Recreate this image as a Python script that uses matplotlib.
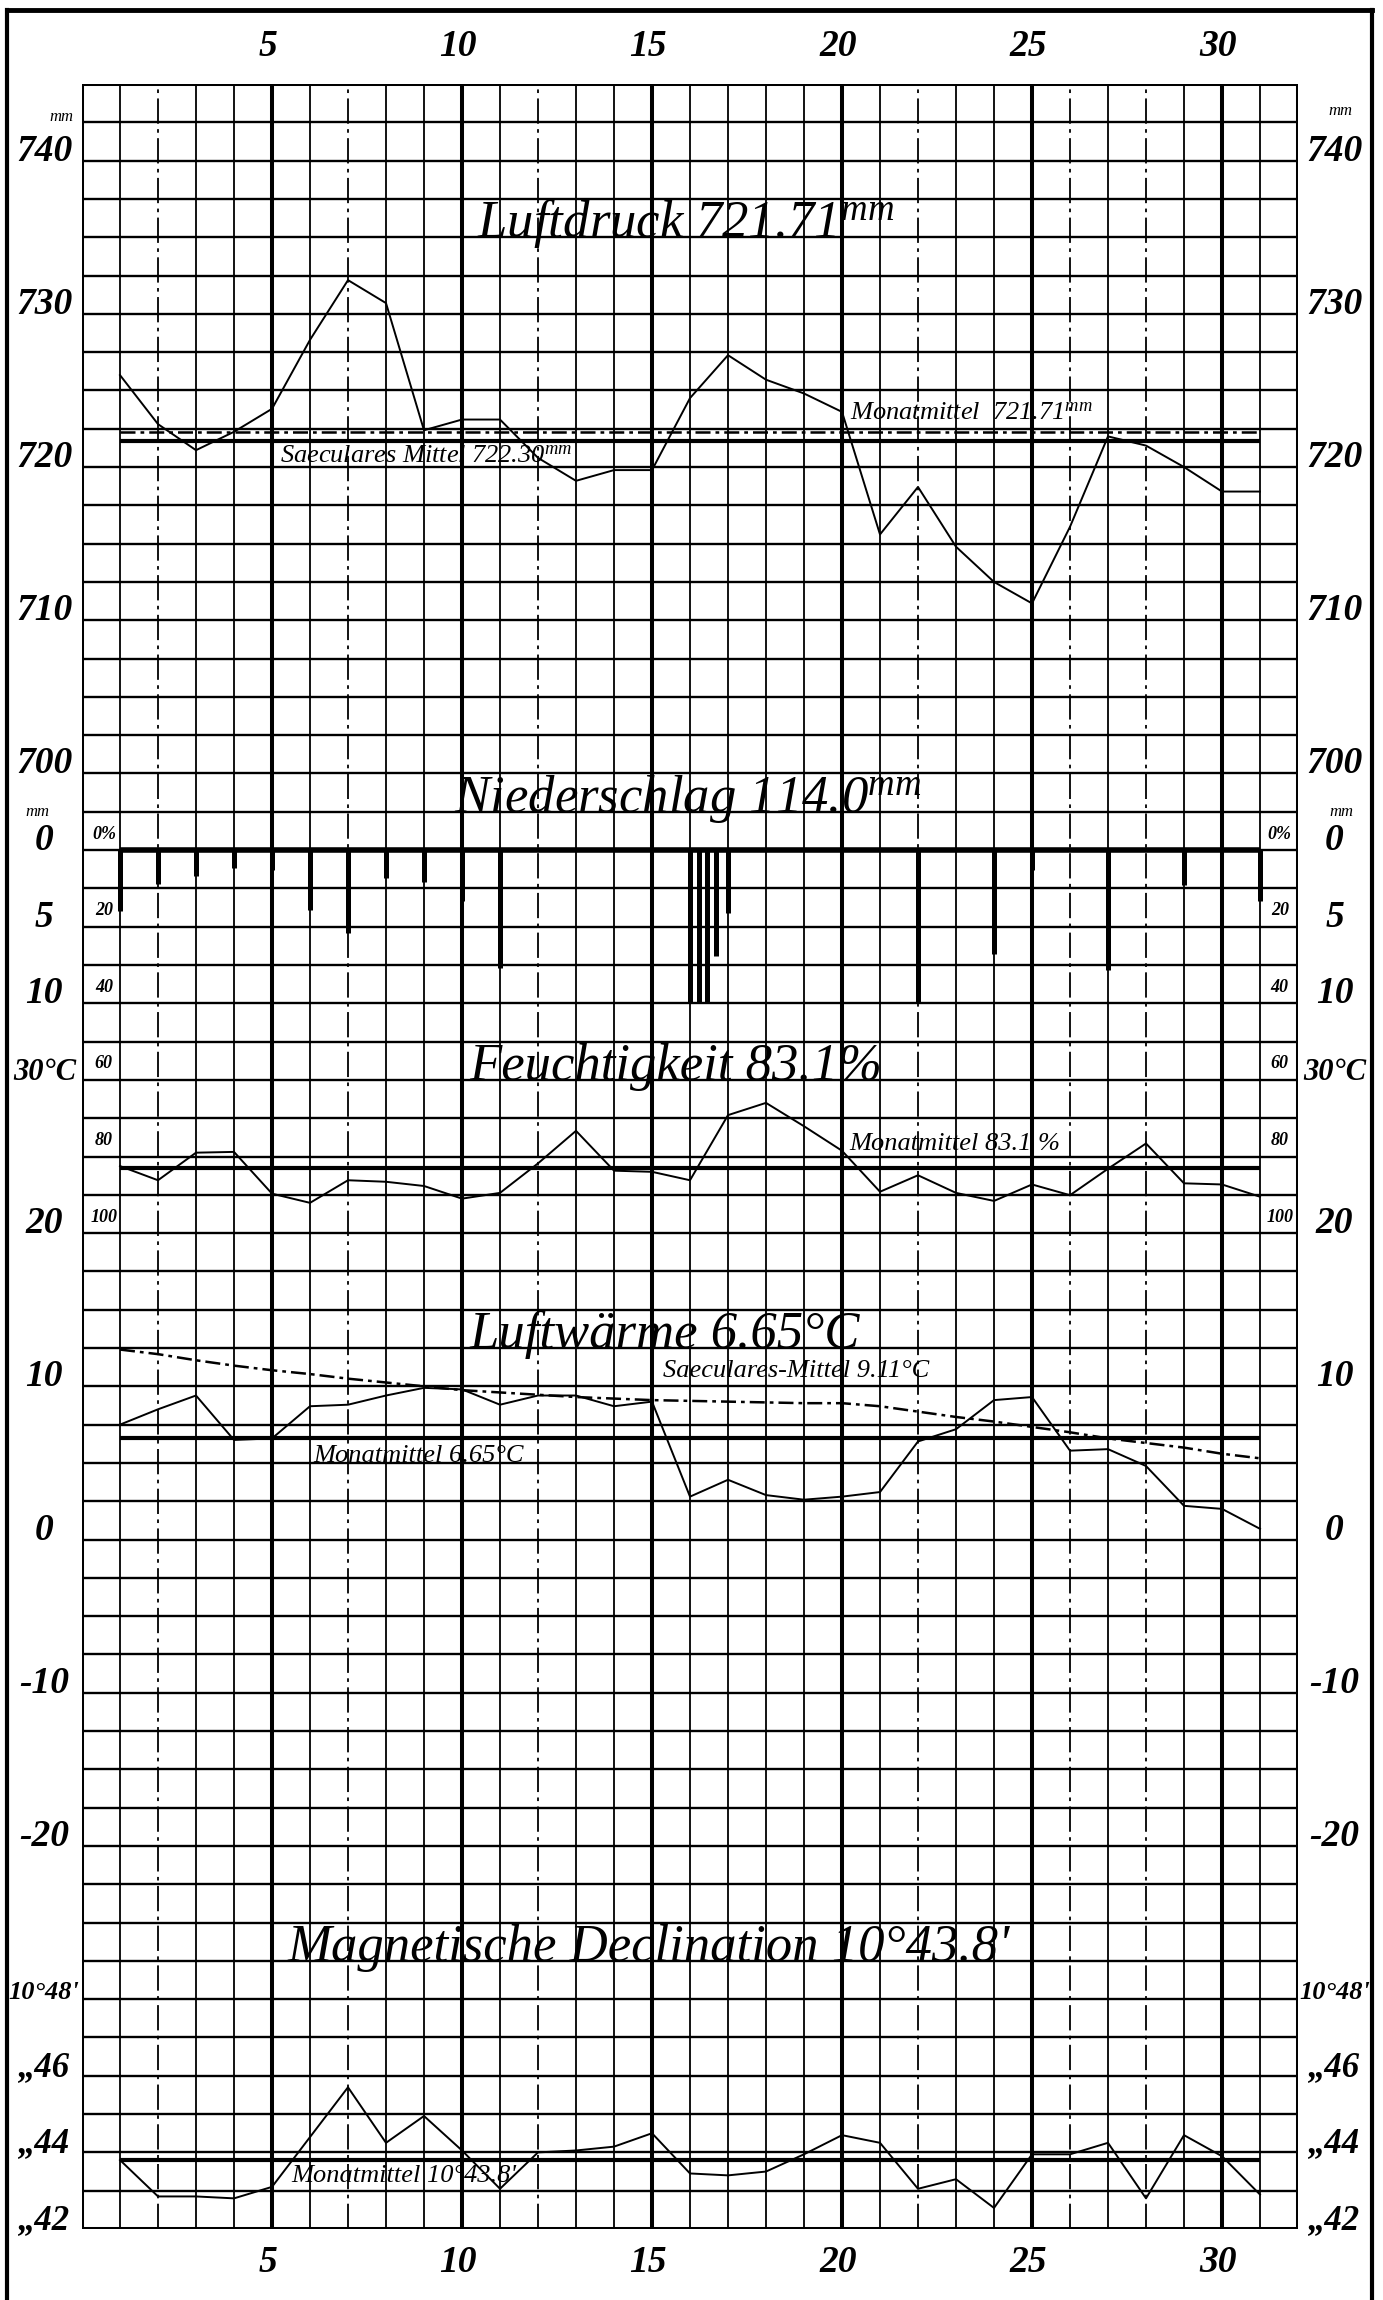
import matplotlib.pyplot as plt
import numpy as np

plt.rcParams['font.family'] = ['Liberation Serif', 'DejaVu Serif']
plt.rcParams['font.style'] = 'italic'
plt.rcParams['mathtext.fontset'] = 'custom'
plt.rcParams['mathtext.rm'] = 'Liberation Serif:italic'
plt.rcParams['mathtext.it'] = 'Liberation Serif:italic'

# --- data (one value per day of the month) ---
days = np.arange(1, 32)

pressure = [726.0, 722.8, 721.1, 722.3, 723.8, 728.3, 732.2, 730.7, 722.4, 723.1,
            723.1, 720.6, 719.1, 719.8, 719.8, 724.5, 727.3, 725.7, 724.8, 723.6,
            715.6, 718.7, 714.8, 712.5, 711.1, 716.1, 722.0, 721.4, 720.0, 718.4, 718.4]
pressure_mean = 721.71
pressure_secular = 722.30

precipitation = [4.0, 2.2, 1.7, 1.2, 1.3, 3.9, 5.4, 1.8, 2.1, 3.3,
                 7.7, 0, 0, 0, 0, 36.9, 4.1, 0, 0, 0,
                 0, 10.0, 0, 6.8, 1.3, 0, 7.8, 0, 2.3, 0, 3.3]
precipitation_total = 114.0

humidity = [82.5, 86.2, 79.0, 78.8, 89.7, 92.1, 86.2, 86.6, 87.7, 91.0,
            89.5, 81.8, 73.3, 83.7, 84.0, 86.2, 69.2, 66.0, 72.1, 78.5,
            89.2, 84.9, 89.5, 91.6, 87.3, 90.1, 83.2, 76.6, 87.0, 87.3, 90.5]
humidity_mean = 83.1

temperature = [7.5, 8.5, 9.4, 6.5, 6.6, 8.7, 8.8, 9.4, 9.9, 9.8,
               8.8, 9.4, 9.4, 8.7, 9.0, 2.8, 3.9, 2.9, 2.6, 2.8,
               3.1, 6.4, 7.2, 9.1, 9.3, 5.8, 5.9, 4.8, 2.2, 2.0, 0.7]
temperature_mean = 6.65
temperature_secular = [12.4, 12.1, 11.7, 11.35, 11.05, 10.8, 10.5, 10.25, 10.0, 9.75,
                       9.6, 9.45, 9.3, 9.2, 9.1, 9.05, 9.0, 8.95, 8.9, 8.9,
                       8.7, 8.35, 8.0, 7.7, 7.35, 7.0, 6.6, 6.3, 6.0, 5.6, 5.3]

declination = [43.8, 42.85, 42.85, 42.8, 43.1, 44.4, 45.7, 44.25, 44.95, 44.05,
               43.05, 44.0, 44.05, 44.15, 44.5, 43.45, 43.4, 43.5, 43.95, 44.45,
               44.25, 43.05, 43.3, 42.55, 43.95, 43.95, 44.25, 42.8, 44.45, 43.9, 42.9]
declination_mean = 43.8

day_ticks = [5, 10, 15, 20, 25, 30]
pressure_ticks = [740, 730, 720, 710, 700]
precip_ticks = [0, 5, 10]
humidity_ticks = [0, 20, 40, 60, 80, 100]
temp_ticks = [30, 20, 10, 0, -10, -20]
decl_ticks = [48, 46, 44, 42]

# --- figure and grid ---
W, H = 1383, 2300
fig = plt.figure(figsize=(W / 100, H / 100), dpi=100, facecolor='white')

gx0, gx1, gy0, gy1 = 82, 1298, 84, 2229
rect = [gx0 / W, 1 - gy1 / H, (gx1 - gx0) / W, (gy1 - gy0) / H]

ax = fig.add_axes(rect)
ax.set_xlim(0, 32)
ax.set_ylim(56, 0)
ax.axis('off')

for d in range(33):
    thick = d % 5 == 0 or d == 32
    ls = (0, (14, 3, 2, 3)) if d in (2, 7, 12, 22, 26, 28) else '-'
    ax.axvline(d, color='black', lw=2.9 if thick else 1.3, ls=ls, zorder=1)
for r in range(57):
    ax.axhline(r, color='black', lw=2.9 if r in (0, 56) else 1.7, zorder=1)


def layer(lo, hi):
    a = fig.add_axes(rect, sharex=ax)
    a.set_ylim(lo, hi)
    a.axis('off')
    a.patch.set_alpha(0)
    return a


p_ax = layer(605, 745)
r_ax = layer(90, -50)
h_ax = layer(360, -200)
t_ax = layer(-45, 95)
m_ax = layer(42, 98)

ink = dict(color='black', zorder=3)

# Luftdruck
p_ax.plot(days, pressure, lw=1.4, **ink)
p_ax.hlines(pressure_mean, 1, 31, lw=3.0, **ink)
p_ax.hlines(pressure_secular, 1, 31, lw=1.8, ls=(0, (6, 2, 1.5, 2)), **ink)

# Niederschlag: bars hang from the zero line and fold back at 10 mm
r_ax.hlines(0, 1, 31, lw=4.0, **ink)
for d, v in zip(days, precipitation):
    j = 0
    while v > 0:
        seg = min(v, 10.0)
        r_ax.vlines(d + j * 0.23, 0, seg, lw=3.6, **ink)
        v -= seg
        j += 1

# Feuchtigkeit
h_ax.plot(days, humidity, lw=1.4, **ink)
h_ax.hlines(humidity_mean, 1, 31, lw=3.0, **ink)

# Luftwärme
t_ax.plot(days, temperature, lw=1.4, **ink)
t_ax.hlines(temperature_mean, 1, 31, lw=3.0, **ink)
t_ax.plot(days, temperature_secular, lw=1.8, ls=(0, (6, 2, 1.5, 2)), **ink)

# Magnetische Declination
m_ax.plot(days, declination, lw=1.4, **ink)
m_ax.hlines(declination_mean, 1, 31, lw=3.0, **ink)

# --- titles and notes ---
big = dict(fontsize=38, color='black', va='baseline', ha='left', zorder=4)
small = dict(fontsize=19, color='black', va='baseline', ha='left', zorder=4)

p_ax.text(10.4, 735, r'Luftdruck 721.71$^{\rm mm}$', **big)
r_ax.text(9.8, -2.5, r'Niederschlag 114.0$^{\rm mm}$', **big)
h_ax.text(10.2, 60, 'Feuchtigkeit 83.1%', **big)
t_ax.text(10.2, 12.5, 'Luftwärme 6.65°C', **big)
m_ax.text(5.4, 49, "Magnetische Declination 10°43.8'", **big)

p_ax.text(20.2, 723.1, r'Monatmittel  721.71$^{\rm mm}$', **small)
p_ax.text(5.2, 720.3, r'Saeculares Mittel 722.30$^{\rm mm}$', **small)
h_ax.text(20.2, 78.3, 'Monatmittel 83.1 %', **small)
t_ax.text(15.3, 10.6, 'Saeculares-Mittel 9.11°C', **small)
t_ax.text(6.1, 5.05, 'Monatmittel 6.65°C', **small)
m_ax.text(5.5, 43.24, "Monatmittel 10°43.8'", **small)

# --- scale numbers on both margins ---
lab = dict(fontsize=27, color='black', va='baseline', ha='center', clip_on=False,
           weight='bold')
lx, rx = -0.031, 1.030


def side(a, values, texts, sizes=None):
    tr = a.get_yaxis_transform()
    sizes = sizes or [27] * len(values)
    for v, t, s in zip(values, texts, sizes):
        a.text(lx, v, t, transform=tr, **{**lab, 'fontsize': s})
        a.text(rx, v, t, transform=tr, **{**lab, 'fontsize': s})


side(p_ax, pressure_ticks, [str(v) for v in pressure_ticks])
side(r_ax, precip_ticks, [str(v) for v in precip_ticks])
side(t_ax, temp_ticks, ['30°C'] + [str(v) for v in temp_ticks[1:]],
     [22, 27, 27, 27, 27, 27])
side(m_ax, decl_ticks, ["10°48'"] + ['„%d' % v for v in decl_ticks[1:]],
     [19, 25, 25, 25])

tr = p_ax.get_yaxis_transform()
p_ax.text(-0.017, 742.6, 'mm', transform=tr, fontsize=12, ha='center', va='baseline')
p_ax.text(1.035, 743.0, 'mm', transform=tr, fontsize=12, ha='center', va='baseline')
tr = r_ax.get_yaxis_transform()
r_ax.text(-0.037, -2.2, 'mm', transform=tr, fontsize=12, ha='center', va='baseline')
r_ax.text(1.036, -2.2, 'mm', transform=tr, fontsize=12, ha='center', va='baseline')

tr = h_ax.get_yaxis_transform()
for v in humidity_ticks:
    t = '0%' if v == 0 else str(v)
    h_ax.text(0.018, v - 3, t, transform=tr, fontsize=13, ha='center', va='baseline',
              weight='bold')
    h_ax.text(0.985, v - 3, t, transform=tr, fontsize=13, ha='center', va='baseline',
              weight='bold')

tr = ax.get_xaxis_transform()
for d in day_ticks:
    ax.text(d - 0.1, 1.0175, str(d), transform=tr, fontsize=27, ha='center', va='center',
            weight='bold')
    ax.text(d - 0.1, -0.0155, str(d), transform=tr, fontsize=27, ha='center', va='center',
            weight='bold')

# outer frame of the sheet
fig.add_artist(plt.Line2D([7 / W, 7 / W], [0, 1 - 10 / H], color='black', lw=3))
fig.add_artist(plt.Line2D([1372 / W, 1372 / W], [0, 1 - 10 / H], color='black', lw=3))
fig.add_artist(plt.Line2D([7 / W, 1372 / W], [1 - 10 / H, 1 - 10 / H], color='black', lw=3.5))

fig.savefig('out.png', dpi=100, facecolor='white')
